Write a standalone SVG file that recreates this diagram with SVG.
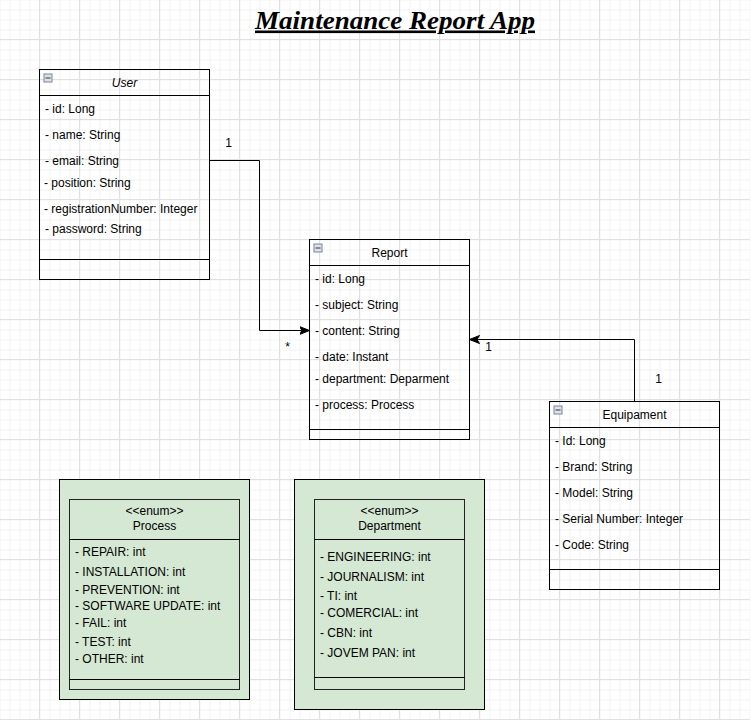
<svg xmlns="http://www.w3.org/2000/svg" width="750" height="720" viewBox="0 0 750 720">
  <defs>
    <pattern id="minor" width="10" height="10" patternUnits="userSpaceOnUse" x="9.5" y="9.5">
      <path d="M0 0.5 H10 M0.5 0 V10" fill="none" stroke="#f2f2f2" stroke-width="1"/>
    </pattern>
    <pattern id="major" width="40" height="40" patternUnits="userSpaceOnUse" x="39" y="39">
      <path d="M0 0.5 H40 M0.5 0 V40" fill="none" stroke="#e0e0e0" stroke-width="1"/>
    </pattern>
    <marker id="arrow" markerUnits="userSpaceOnUse" markerWidth="11" markerHeight="9" refX="10" refY="4.5" orient="auto" viewBox="0 0 11 9">
      <path d="M0,0.5 L10,4.5 L0,8.5 L2.5,4.5 Z" fill="#000" stroke="#000" stroke-width="1" stroke-linejoin="miter"/>
    </marker>
    <g id="icon">
      <rect x="0.5" y="0.5" width="8" height="8" fill="#dde2ea" stroke="#7b8596" stroke-width="1"/>
      <path d="M2 4.5 H7" stroke="#333" stroke-width="1"/>
    </g>
  </defs>
  <style>
    .box { fill: none; stroke: #000; stroke-width: 1; }
    .line { fill: none; stroke: #000; stroke-width: 1; }
    .enumouter { fill: #d5e8d4; stroke: #000; stroke-width: 1; }
    .enuminner { fill: #d5e8d4; stroke: #222; stroke-width: 1; }
    text { font-family: "Liberation Sans", Arial, sans-serif; font-size: 12px; fill: #000; }
    .ctr { text-anchor: middle; }
    .it { font-style: italic; }
    .title { font-family: "Liberation Serif", "Times New Roman", serif; font-size: 26px; font-weight: bold; font-style: italic; text-decoration: underline; }
  </style>

  <rect width="750" height="720" fill="#ffffff"/>
  <rect width="750" height="720" fill="url(#minor)"/>
  <rect width="750" height="720" fill="url(#major)"/>

  <g id="title">
    <text class="title" x="255" y="28.5" textLength="280" lengthAdjust="spacingAndGlyphs">Maintenance Report App</text>
  </g>

  <g id="connectors">
    <path class="line" d="M209.5 160.5 H259.5 V330.5 H309.5" marker-end="url(#arrow)"/>
    <path class="line" d="M634.5 401.5 V339.5 H469.5" marker-end="url(#arrow)"/>
    <text class="ctr" x="228.5" y="147">1</text>
    <text class="ctr" x="287.5" y="351">*</text>
    <text class="ctr" x="488.5" y="351">1</text>
    <text class="ctr" x="658.5" y="383">1</text>
  </g>

  <g id="user">
    <rect class="box" x="39.5" y="69.5" width="170" height="210"/>
    <path class="line" d="M39.5 95.5 H209.5 M39.5 259.5 H209.5"/>
    <use href="#icon" x="43.5" y="73.5"/>
    <text class="ctr it" x="124.5" y="87">User</text>
    <text x="45" y="113">- id: Long</text>
    <text x="45" y="139">- name: String</text>
    <text x="45" y="165">- email: String</text>
    <text x="44" y="187">- position: String</text>
    <text x="44" y="213">- registrationNumber: Integer</text>
    <text x="45" y="233">- password: String</text>
  </g>

  <g id="report">
    <rect class="box" x="309.5" y="239.5" width="160" height="200"/>
    <path class="line" d="M309.5 265.5 H469.5 M309.5 429.5 H469.5"/>
    <use href="#icon" x="313.5" y="243.5"/>
    <text class="ctr" x="389.5" y="257">Report</text>
    <text x="315" y="283">- id: Long</text>
    <text x="315" y="309">- subject: String</text>
    <text x="315" y="335">- content: String</text>
    <text x="315" y="361">- date: Instant</text>
    <text x="315" y="383">- department: Deparment</text>
    <text x="315" y="409">- process: Process</text>
  </g>

  <g id="equipament">
    <rect class="box" x="549.5" y="401.5" width="170" height="188"/>
    <path class="line" d="M549.5 427.5 H719.5 M549.5 569.5 H719.5"/>
    <use href="#icon" x="553.5" y="405.5"/>
    <text class="ctr" x="634.5" y="419">Equipament</text>
    <text x="555" y="445">- Id: Long</text>
    <text x="555" y="471">- Brand: String</text>
    <text x="555" y="497">- Model: String</text>
    <text x="555" y="523">- Serial Number: Integer</text>
    <text x="555" y="549">- Code: String</text>
  </g>

  <g id="process">
    <rect class="enumouter" x="59.5" y="479.5" width="190" height="220"/>
    <rect class="enuminner" x="69.5" y="499.5" width="170" height="190"/>
    <path class="line" d="M69.5 539.5 H239.5 M69.5 679.5 H239.5" stroke="#222"/>
    <text class="ctr" x="154.5" y="515">&lt;&lt;enum&gt;&gt;</text>
    <text class="ctr" x="154.5" y="530">Process</text>
    <text x="75" y="556">- REPAIR: int</text>
    <text x="75" y="576">- INSTALLATION: int</text>
    <text x="75" y="594">- PREVENTION: int</text>
    <text x="75" y="610">- SOFTWARE UPDATE: int</text>
    <text x="75" y="627">- FAIL: int</text>
    <text x="75" y="646">- TEST: int</text>
    <text x="75" y="663">- OTHER: int</text>
  </g>

  <g id="department">
    <rect class="enumouter" x="294.5" y="479.5" width="190" height="230"/>
    <rect class="enuminner" x="314.5" y="499.5" width="150" height="190"/>
    <path class="line" d="M314.5 539.5 H464.5 M314.5 677.5 H464.5" stroke="#222"/>
    <text class="ctr" x="389.5" y="515">&lt;&lt;enum&gt;&gt;</text>
    <text class="ctr" x="389.5" y="530">Department</text>
    <text x="320" y="561">- ENGINEERING: int</text>
    <text x="320" y="581">- JOURNALISM: int</text>
    <text x="320" y="600">- TI: int</text>
    <text x="320" y="617">- COMERCIAL: int</text>
    <text x="320" y="637">- CBN: int</text>
    <text x="320" y="657">- JOVEM PAN: int</text>
  </g>
</svg>
